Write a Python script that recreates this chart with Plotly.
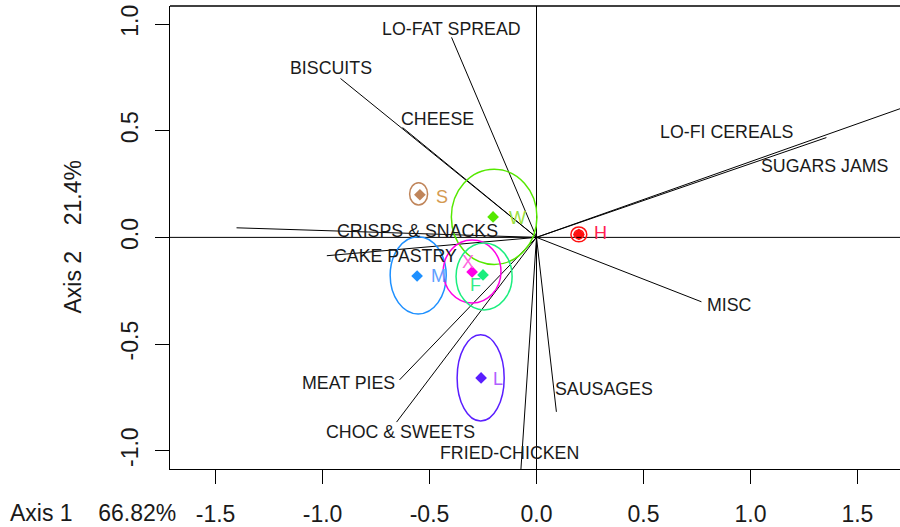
import plotly.graph_objects as go

# Variable arrows (loadings)
var_names = ["LO-FAT SPREAD", "BISCUITS", "CHEESE", "CRISPS & SNACKS", "CAKE PASTRY",
             "LO-FI CEREALS", "SUGARS JAMS", "MISC", "SAUSAGES", "FRIED-CHICKEN",
             "MEAT PIES", "CHOC & SWEETS"]
var_x = [-0.397, -0.916, -0.626, -1.402, -0.98, 1.355, 1.76, 0.771, 0.093, -0.075, -0.64, -0.654]
var_y = [0.938, 0.745, 0.515, 0.045, -0.086, 0.468, 0.625, -0.302, -0.818, -1.12, -0.668, -0.866]
lab_x = [-0.395, -0.96, -0.465, -0.558, -0.661, 0.890, 1.348, 0.90, 0.315, -0.124, -0.881, -0.638]
lab_y = [0.977, 0.794, 0.555, 0.030, -0.087, 0.494, 0.335, -0.317, -0.711, -1.01, -0.682, -0.913]

# Group centroids and ellipses
grp_names = ["S", "W", "H", "M", "X", "F", "L"]
grp_x = [-0.545, -0.203, 0.198, -0.558, -0.301, -0.250, -0.259]
grp_y = [0.200, 0.096, 0.014, -0.181, -0.162, -0.176, -0.659]
ell_cx = [-0.551, -0.198, 0.198, -0.553, -0.301, -0.245, -0.261]
ell_cy = [0.204, 0.096, 0.014, -0.178, -0.160, -0.183, -0.659]
ell_rx = [0.042, 0.200, 0.037, 0.131, 0.135, 0.131, 0.110]
ell_ry = [0.052, 0.223, 0.035, 0.181, 0.148, 0.157, 0.202]
grp_colors = ["#C0855A", "#55E800", "#FF1010", "#1E90FF", "#FF00E6", "#1AEE7E", "#5A1EFF"]
grp_lab_colors = ["#D49A50", "#9ADF40", "#FF2050", "#5FA0FF", "#FF66E0", "#33EE88", "#B060FF"]
grp_lab_x = [-0.442, -0.091, 0.297, -0.456, -0.320, -0.287, -0.180]
grp_lab_y = [0.190, 0.090, 0.020, -0.180, -0.115, -0.223, -0.665]

xticks = [-1.5, -1.0, -0.5, 0.0, 0.5, 1.0, 1.5]
xtick_labels = ["-1.5", "-1.0", "-0.5", "0.0", "0.5", "1.0", "1.5"]
yticks = [-1.0, -0.5, 0.0, 0.5, 1.0]
ytick_labels = ["-1.0", "-0.5", "0.0", "0.5", "1.0"]

FONT = "Liberation Sans, Arial, sans-serif"

fig = go.Figure()

# arrows as plain lines from the origin
for n, x, y in zip(var_names, var_x, var_y):
    fig.add_trace(go.Scatter(x=[0, x], y=[0, y], mode="lines",
                             line=dict(color="black", width=1), hoverinfo="skip",
                             showlegend=False))

# group points
for i, n in enumerate(grp_names):
    fig.add_trace(go.Scatter(x=[grp_x[i]], y=[grp_y[i]], mode="markers",
                             marker=dict(symbol="diamond", size=9, color=grp_colors[i]),
                             showlegend=False, name=n))

shapes = []
# axes through origin
shapes.append(dict(type="line", xref="x", yref="paper", x0=0, x1=0, y0=0, y1=1,
                   line=dict(color="black", width=1)))
shapes.append(dict(type="line", xref="paper", yref="y", x0=0, x1=1, y0=0, y1=0,
                   line=dict(color="black", width=1)))
# top border
shapes.append(dict(type="line", xref="paper", yref="paper", x0=0, x1=1, y0=1, y1=1,
                   line=dict(color="black", width=1.3)))
# ellipses
for i in range(len(grp_names)):
    shapes.append(dict(type="circle", xref="x", yref="y",
                       x0=ell_cx[i] - ell_rx[i], x1=ell_cx[i] + ell_rx[i],
                       y0=ell_cy[i] - ell_ry[i], y1=ell_cy[i] + ell_ry[i],
                       line=dict(color=grp_colors[i], width=1.5)))
# inner ring for H
shapes.append(dict(type="circle", xref="x", yref="y",
                   x0=ell_cx[2] - ell_rx[2] * 0.6, x1=ell_cx[2] + ell_rx[2] * 0.6,
                   y0=ell_cy[2] - ell_ry[2] * 0.6, y1=ell_cy[2] + ell_ry[2] * 0.6,
                   line=dict(color=grp_colors[2], width=1.5)))

annotations = []
for n, x, y in zip(var_names, lab_x, lab_y):
    annotations.append(dict(x=x, y=y, xref="x", yref="y", text=n, showarrow=False,
                            font=dict(family=FONT, size=17.8, color="#1a1a1a")))
for i, n in enumerate(grp_names):
    annotations.append(dict(x=grp_lab_x[i], y=grp_lab_y[i], xref="x", yref="y", text=n,
                            showarrow=False,
                            font=dict(family=FONT, size=18, color=grp_lab_colors[i])))
# axis titles
SP = "&nbsp;" * 4
annotations.append(dict(x=0, y=0, xref="paper", yref="paper", xanchor="center", yanchor="middle",
                        xshift=-77, yshift=-44, text="Axis 1" + SP + "66.82%", showarrow=False,
                        font=dict(family=FONT, size=23, color="#1a1a1a")))
annotations.append(dict(x=0, y=0.5, xref="paper", yref="paper", xanchor="center", yanchor="middle",
                        xshift=-98, text="Axis 2" + SP + "21.4%", showarrow=False,
                        textangle=-90,
                        font=dict(family=FONT, size=23, color="#1a1a1a")))

fig.update_layout(
    width=900, height=527,
    margin=dict(l=170, r=0, t=6, b=58),
    paper_bgcolor="white", plot_bgcolor="white",
    shapes=shapes, annotations=annotations,
    showlegend=False,
    xaxis=dict(range=[-1.713, 1.699], tickvals=xticks, ticktext=xtick_labels,
               showgrid=False, zeroline=False, showline=True, linecolor="black", linewidth=1.3,
               ticks="outside", ticklen=14, tickcolor="black", tickwidth=1.3,
               ticklabelstandoff=10,
               tickfont=dict(family=FONT, size=23, color="#1a1a1a")),
    yaxis=dict(range=[-1.086, 1.085], tickvals=yticks, ticktext=ytick_labels,
               showgrid=False, zeroline=False, showline=True, linecolor="black", linewidth=1.3,
               ticks="outside", ticklen=14, tickcolor="black", tickwidth=1.3,
               tickangle=-90, ticklabelstandoff=8,
               tickfont=dict(family=FONT, size=23, color="#1a1a1a")),
)

fig.write_html("out.html", config={"displayModeBar": False},
               post_script="document.body.style.margin='0';document.body.style.padding='0';")
